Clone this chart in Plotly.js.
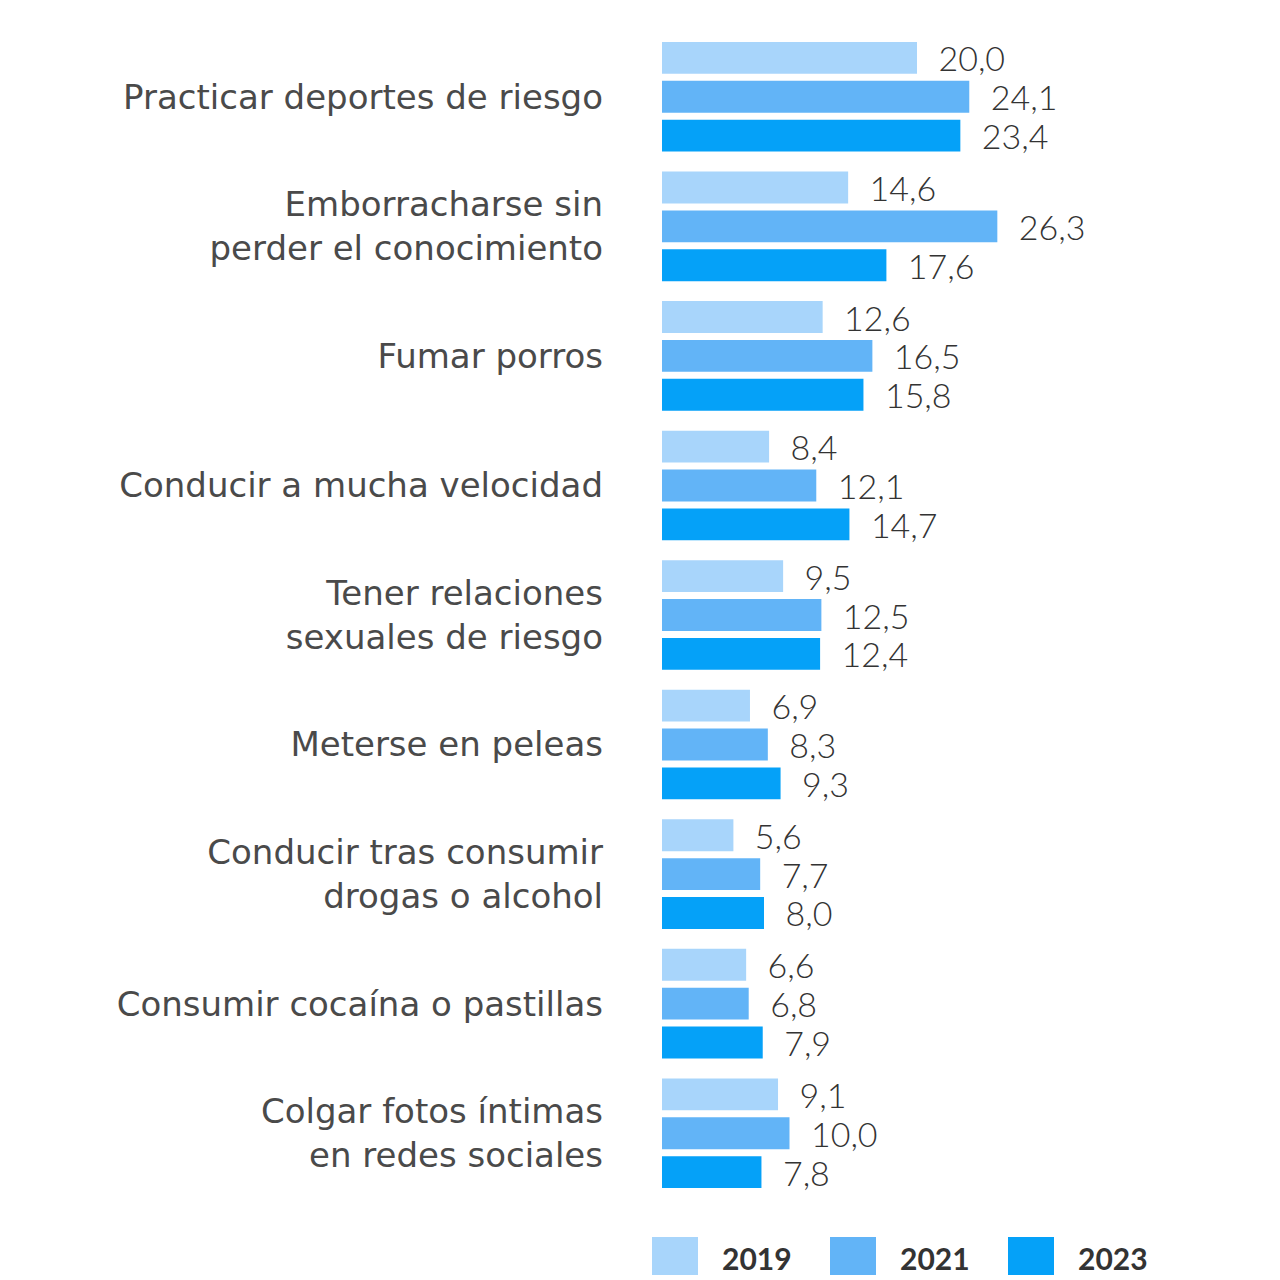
<!DOCTYPE html>
<html>
<head>
<meta charset="utf-8">
<script src="https://cdn.plot.ly/plotly-3.0.1.min.js"></script>
<style>
  html, body { margin: 0; padding: 0; background: #ffffff; }
  #chart { width: 1280px; height: 1280px; }
</style>
</head>
<body>
<div id="chart"></div>
<script>
// Conductas de riesgo: porcentaje por año
const categories = [
  'Practicar deportes de riesgo',
  'Emborracharse sin<br>perder el conocimiento',
  'Fumar porros',
  'Conducir a mucha velocidad',
  'Tener relaciones<br>sexuales de riesgo',
  'Meterse en peleas',
  'Conducir tras consumir<br>drogas o alcohol',
  'Consumir cocaína o pastillas',
  'Colgar fotos íntimas<br>en redes sociales'
];
const years = ['2019', '2021', '2023'];
const values2019 = [20.0, 14.6, 12.6, 8.4, 9.5, 6.9, 5.6, 6.6, 9.1];
const values2021 = [24.1, 26.3, 16.5, 12.1, 12.5, 8.3, 7.7, 6.8, 10.0];
const values2023 = [23.4, 17.6, 15.8, 14.7, 12.4, 9.3, 8.0, 7.9, 7.8];
const seriesValues = [values2019, values2021, values2023];
const colors = ['#a8d5fb', '#62b4f7', '#05a1f8'];

const LABEL_FONT = '"DejaVu Sans", "Open Sans", sans-serif';
const VALUE_FONT = 'Lato, "Open Sans", sans-serif';
const LEGEND_FONT = 'Lato, "Open Sans", sans-serif';
const W = 1280, H = 1280;
const margin = { l: 662, r: 30, t: 32, b: 82 };

const traces = seriesValues.map((vals, i) => ({
  type: 'bar',
  orientation: 'h',
  name: years[i],
  y: categories,
  x: vals,
  marker: { color: colors[i], line: { width: 0 } },
  texttemplate: '\u00a0\u00a0%{x:.1f}',
  textposition: 'outside',
  cliponaxis: false,
  constraintext: 'none',
  textfont: { family: VALUE_FONT, size: 34, color: '#333333', weight: 300 },
  hoverinfo: 'skip',
  showlegend: false
}));

// Legend under the plot: large swatches with bold year labels
const plotW = W - margin.l - margin.r;
const plotH = H - margin.t - margin.b;
const px2x = px => (px - margin.l) / plotW;
const py2y = py => (H - margin.b - py) / plotH;
const legendItems = [652, 830, 1008];
const shapes = [];
const annotations = [];
legendItems.forEach((x0, i) => {
  shapes.push({
    type: 'rect', xref: 'paper', yref: 'paper',
    x0: px2x(x0), x1: px2x(x0 + 46),
    y0: py2y(1275), y1: py2y(1237),
    fillcolor: colors[i], line: { width: 0 }
  });
  annotations.push({
    xref: 'paper', yref: 'paper',
    x: px2x(x0 + 68), y: py2y(1258),
    xanchor: 'left', yanchor: 'middle',
    text: years[i], showarrow: false,
    font: { family: LEGEND_FONT, size: 30, color: '#333333', weight: 700 }
  });
});

const layout = {
  width: W, height: H,
  margin: margin,
  paper_bgcolor: '#ffffff',
  plot_bgcolor: '#ffffff',
  separators: ',.',
  barmode: 'group',
  bargap: 0.1,
  bargroupgap: 0.18,
  showlegend: false,
  xaxis: {
    range: [0, plotW / 12.75],
    visible: false,
    fixedrange: true
  },
  yaxis: {
    type: 'category',
    autorange: 'reversed',
    showgrid: false,
    zeroline: false,
    showline: false,
    ticks: '',
    ticklabelstandoff: 58,
    tickfont: { family: LABEL_FONT, size: 34, color: '#4a4a4a', weight: 400 },
    fixedrange: true
  },
  shapes: shapes,
  annotations: annotations
};

Plotly.newPlot('chart', traces, layout, { displayModeBar: false, staticPlot: true });
</script>
</body>
</html>
